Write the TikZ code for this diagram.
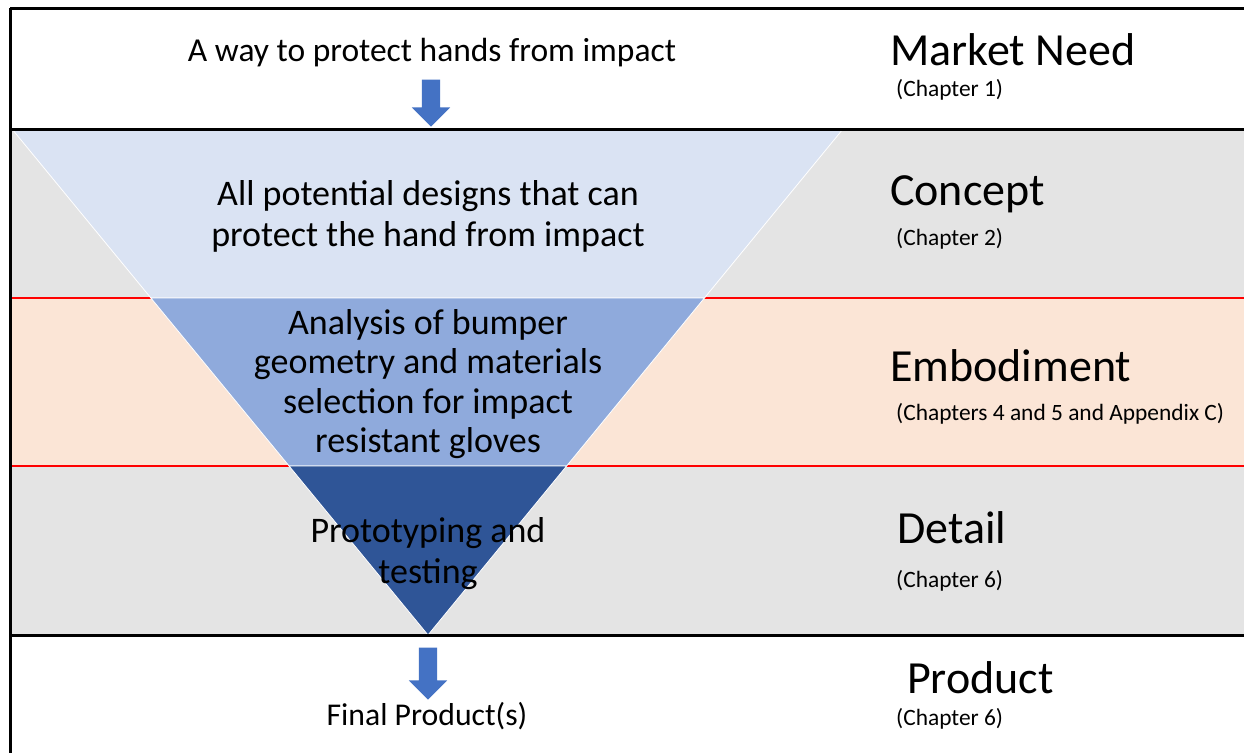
\documentclass[tikz,border=0pt]{standalone}
\usepackage{fontspec}
\setmainfont{Carlito}
\usetikzlibrary{shapes.arrows}

\definecolor{bandgray}{HTML}{E4E4E4}
\definecolor{bandpeach}{HTML}{FBE5D6}
\definecolor{coneA}{HTML}{DAE3F3}
\definecolor{coneB}{HTML}{8FAADC}
\definecolor{coneC}{HTML}{2F5597}
\definecolor{arrowblue}{HTML}{4472C4}
\definecolor{stagered}{HTML}{FF0000}

\tikzset{
  blackrule/.style={draw=black, line width=3pt},
  redrule/.style={draw=stagered, line width=2.4pt},
  conepart/.style={draw=white, line width=0.8pt},
  downarrow/.style={single arrow, fill=arrowblue, draw=none, inner sep=9pt,
    single arrow head extend=10pt, shape border rotate=270},
  toptext/.style={font=\fontsize{33.5}{40}\selectfont, inner sep=0pt, anchor=base},
  conetext/.style={font=\fontsize{36}{41}\selectfont, align=center},
  stagetext/.style={font=\fontsize{46}{50}\selectfont, anchor=base west, inner sep=0pt},
  chaptext/.style={font=\fontsize{23.4}{26}\selectfont, anchor=base west, inner sep=0pt},
}

\begin{document}
\begin{tikzpicture}[x=1pt,y=-1pt]
\useasboundingbox (0,0) rectangle (1244,753);
\fill[white] (0,0) rectangle (1244,753);

% stage bands
\fill[bandgray]  (10,129) rectangle (1244,298);
\fill[bandpeach] (10,298) rectangle (1244,466);
\fill[bandgray]  (10,466) rectangle (1244,635);

% red separators of the embodiment stage
\draw[redrule] (10,298) -- (1244,298);
\draw[redrule] (10,466) -- (1244,466);

% design funnel
\filldraw[conepart, fill=coneA] (12,129) -- (843,129) -- (704.4,298) -- (150.9,298) -- cycle;
\filldraw[conepart, fill=coneB] (150.9,298) -- (704.4,298) -- (566.6,466) -- (289.1,466) -- cycle;
\filldraw[conepart, fill=coneC] (289.1,466) -- (566.6,466) -- (428,635) -- cycle;

% black rules and frame
\draw[blackrule] (10,8) -- (1244,8);
\draw[blackrule] (10,129) -- (1244,129);
\draw[blackrule] (10,635) -- (1244,635);
\draw[blackrule] (10,8) -- (10,753);

% funnel texts
\node[toptext] (need) at (432,61) {A way to protect hands from impact};
\node[downarrow, minimum height=47pt] (arrowin) at (431,98.5) {};
\node[conetext] (concepttxt) at (428,216) {All potential designs that can\\protect the hand from impact};
\node[conetext, font=\fontsize{36}{39.3}\selectfont] (embodtxt) at (428,384) {Analysis of bumper\\geometry and materials\\selection for impact\\resistant gloves};
\node[conetext] (detailtxt) at (428,554) {Prototyping and\\testing};
\node[downarrow, minimum height=52pt] (arrowout) at (428,669) {};
\node[toptext, font=\fontsize{31.7}{38}\selectfont] (final) at (427,725) {Final Product(s)};

% stage names
\node[stagetext] (s1) at (890,65) {Market Need};
\node[chaptext] (c1) at (896,96) {(Chapter 1)};
\node[stagetext] (s2) at (890,205) {Concept};
\node[chaptext] (c2) at (896,245) {(Chapter 2)};
\node[stagetext] (s3) at (890,381) {Embodiment};
\node[chaptext] (c3) at (896,420) {(Chapters 4 and 5 and Appendix C)};
\node[stagetext] (s4) at (897,543) {Detail};
\node[chaptext] (c4) at (896,587) {(Chapter 6)};
\node[stagetext] (s5) at (907,693) {Product};
\node[chaptext] (c5) at (896,725) {(Chapter 6)};
\end{tikzpicture}
\end{document}
